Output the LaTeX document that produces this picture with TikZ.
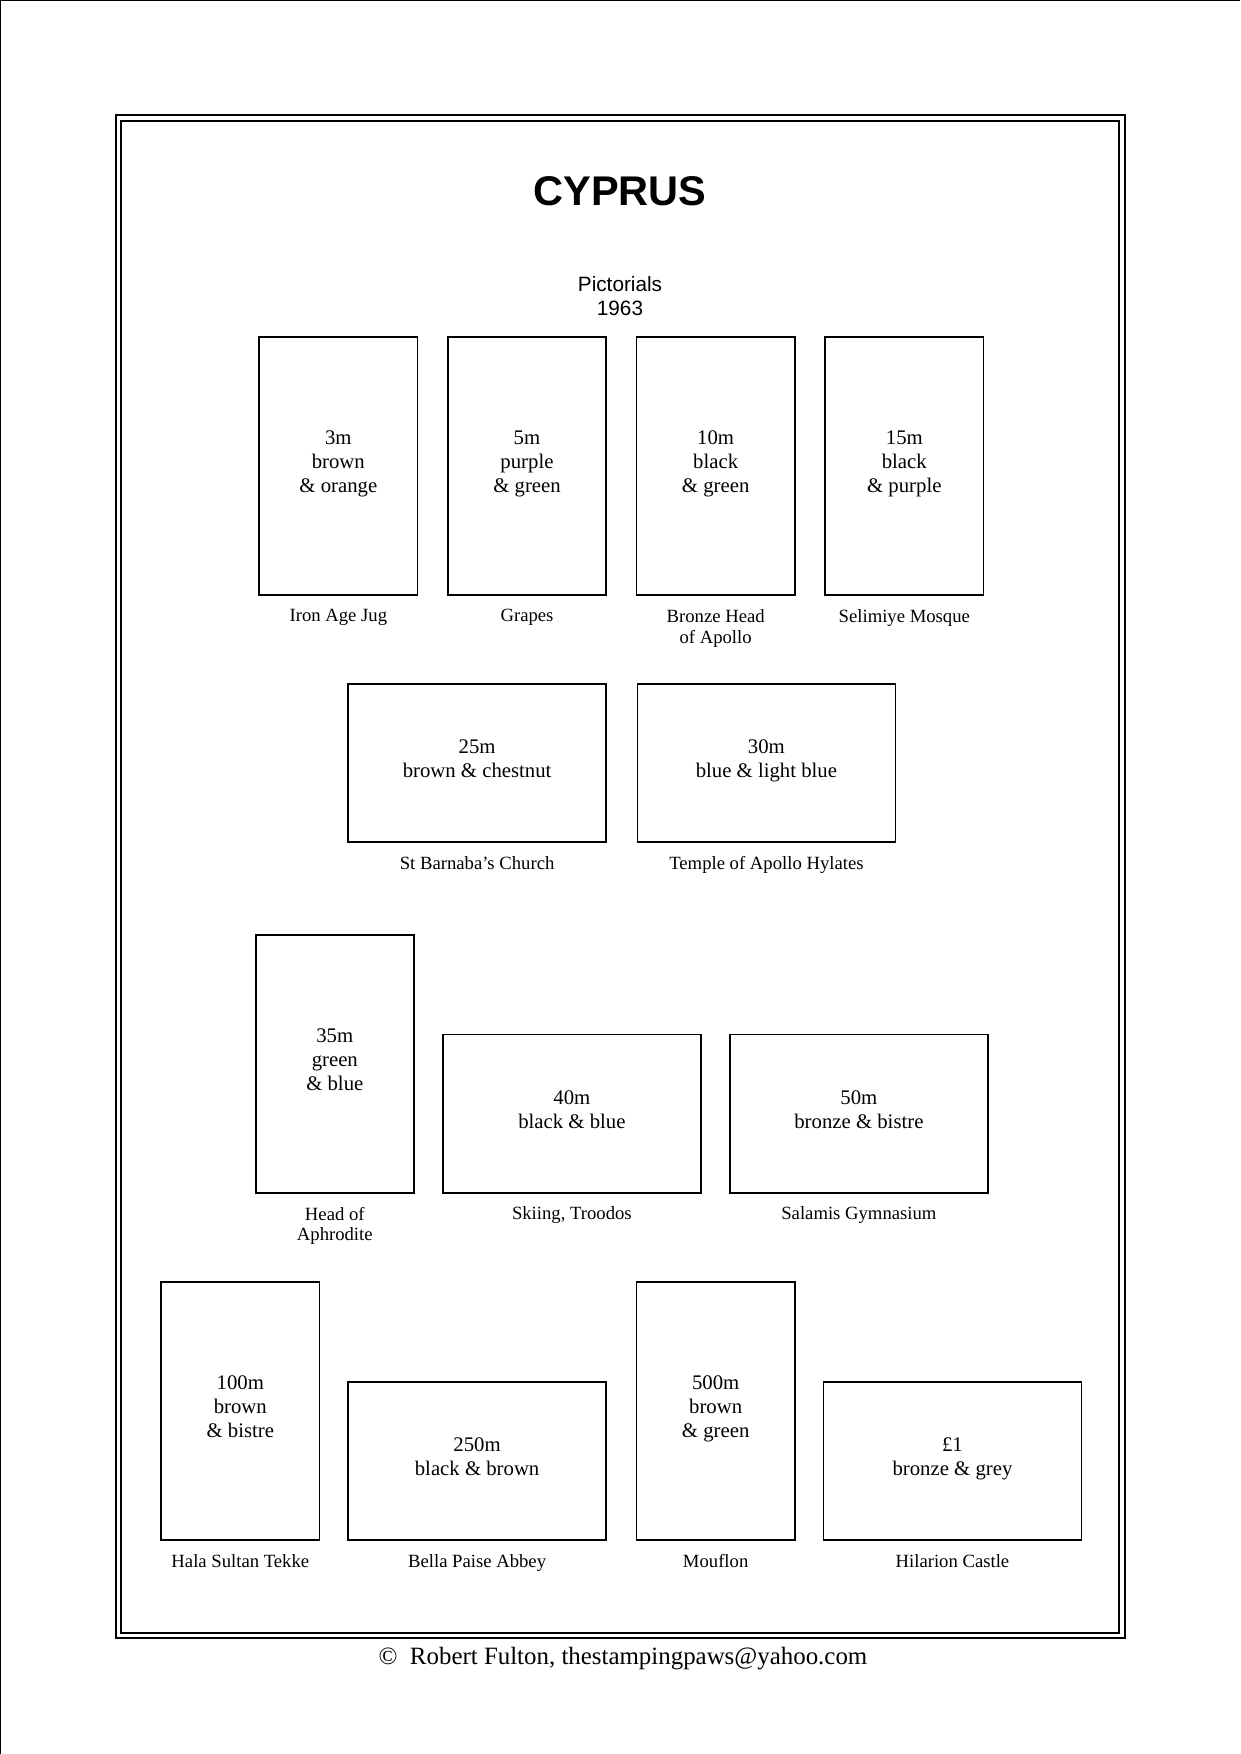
\documentclass[tikz,border=0pt]{standalone}
\usepackage{fontspec}
\setmainfont{Liberation Serif}
\setsansfont{Liberation Sans}
\usetikzlibrary{positioning}

\begin{document}
\begin{tikzpicture}[
        stamp/.style={draw, line width=0.8pt, align=center, inner sep=0pt,
            font=\fontsize{10}{11.5}\selectfont,
            execute at end node={\rule[-4.2pt]{0pt}{1pt}}},
        tall/.style={stamp, minimum width=2.68cm, minimum height=4.37cm, anchor=south},
        wide/.style={stamp, minimum width=4.37cm, minimum height=2.68cm, anchor=south},
        caption/.style={align=center, inner sep=0pt, font=\fontsize{9}{10}\selectfont}
    ]

        \useasboundingbox (0,0) rectangle (21,29.705);

        % Page edges
        \draw[line width=0.7pt] (0.01,0) -- (0.01,29.695) -- (21,29.695);

        % Double frame
        \draw[line width=1.4pt] (1.964,1.964) rectangle (19.052,27.757);
        \draw[line width=0.6pt] (2.049,2.049) rectangle (18.951,27.656);

        % Heading
        \node[font=\sffamily\bfseries\fontsize{20}{24}\selectfont] (title) at (10.5,26.46) {CYPRUS};
        \node[font=\sffamily\fontsize{10}{11.5}\selectfont, align=center] (issue) at (10.5,24.69) {Pictorials\\1963};

        % First row
        \node[tall] (jug) at (5.73,19.61) {3m\\brown\\\& orange};
        \node[tall] (grapes) at (8.925,19.61) {5m\\purple\\\& green};
        \node[tall] (apollo) at (12.12,19.61) {10m\\black\\\& green};
        \node[tall] (mosque) at (15.315,19.61) {15m\\black\\\& purple};
        \node[caption, below=2.2mm of jug] (jugcap) {Iron Age Jug};
        \node[caption, below=2.2mm of grapes] (grapescap) {Grapes};
        \node[caption, below=2.2mm of apollo] (apollocap) {Bronze Head\\of Apollo};
        \node[caption, below=2.2mm of mosque] (mosquecap) {Selimiye Mosque};

        % Second row
        \node[wide] (church) at (8.08,15.43) {25m\\brown \& chestnut};
        \node[wide] (temple) at (12.98,15.43) {30m\\blue \& light blue};
        \node[caption, below=2.2mm of church] (churchcap) {St Barnaba’s Church};
        \node[caption, below=2.2mm of temple] (templecap) {Temple of Apollo Hylates};

        % Third row
        \node[tall] (aphrodite) at (5.67,9.49) {35m\\green\\\& blue};
        \node[wide] (skiing) at (9.685,9.49) {40m\\black \& blue};
        \node[wide] (salamis) at (14.546,9.49) {50m\\bronze \& bistre};
        \node[caption, below=2.2mm of aphrodite] (aphroditecap) {Head of\\Aphrodite};
        \node[caption, below=2.2mm of skiing] (skiingcap) {Skiing, Troodos};
        \node[caption, below=2.2mm of salamis] (salamiscap) {Salamis Gymnasium};

        % Fourth row
        \node[tall] (tekke) at (4.07,3.61) {100m\\brown\\\& bistre};
        \node[wide] (abbey) at (8.08,3.61) {250m\\black \& brown};
        \node[tall] (mouflon) at (12.12,3.61) {500m\\brown\\\& green};
        \node[wide] (castle) at (16.13,3.61) {£1\\bronze \& grey};
        \node[caption, below=2.2mm of tekke] (tekkecap) {Hala Sultan Tekke};
        \node[caption, below=2.2mm of abbey] (abbeycap) {Bella Paise Abbey};
        \node[caption, below=2.2mm of mouflon] (moufloncap) {Mouflon};
        \node[caption, below=2.2mm of castle] (castlecap) {Hilarion Castle};

        % Footer
        \node[font=\fontsize{12}{14}\selectfont, anchor=base, inner sep=0pt] (credit) at (10.55,1.51) {©\ \ Robert Fulton, thestampingpaws@yahoo.com};

    \end{tikzpicture}
\end{document}
